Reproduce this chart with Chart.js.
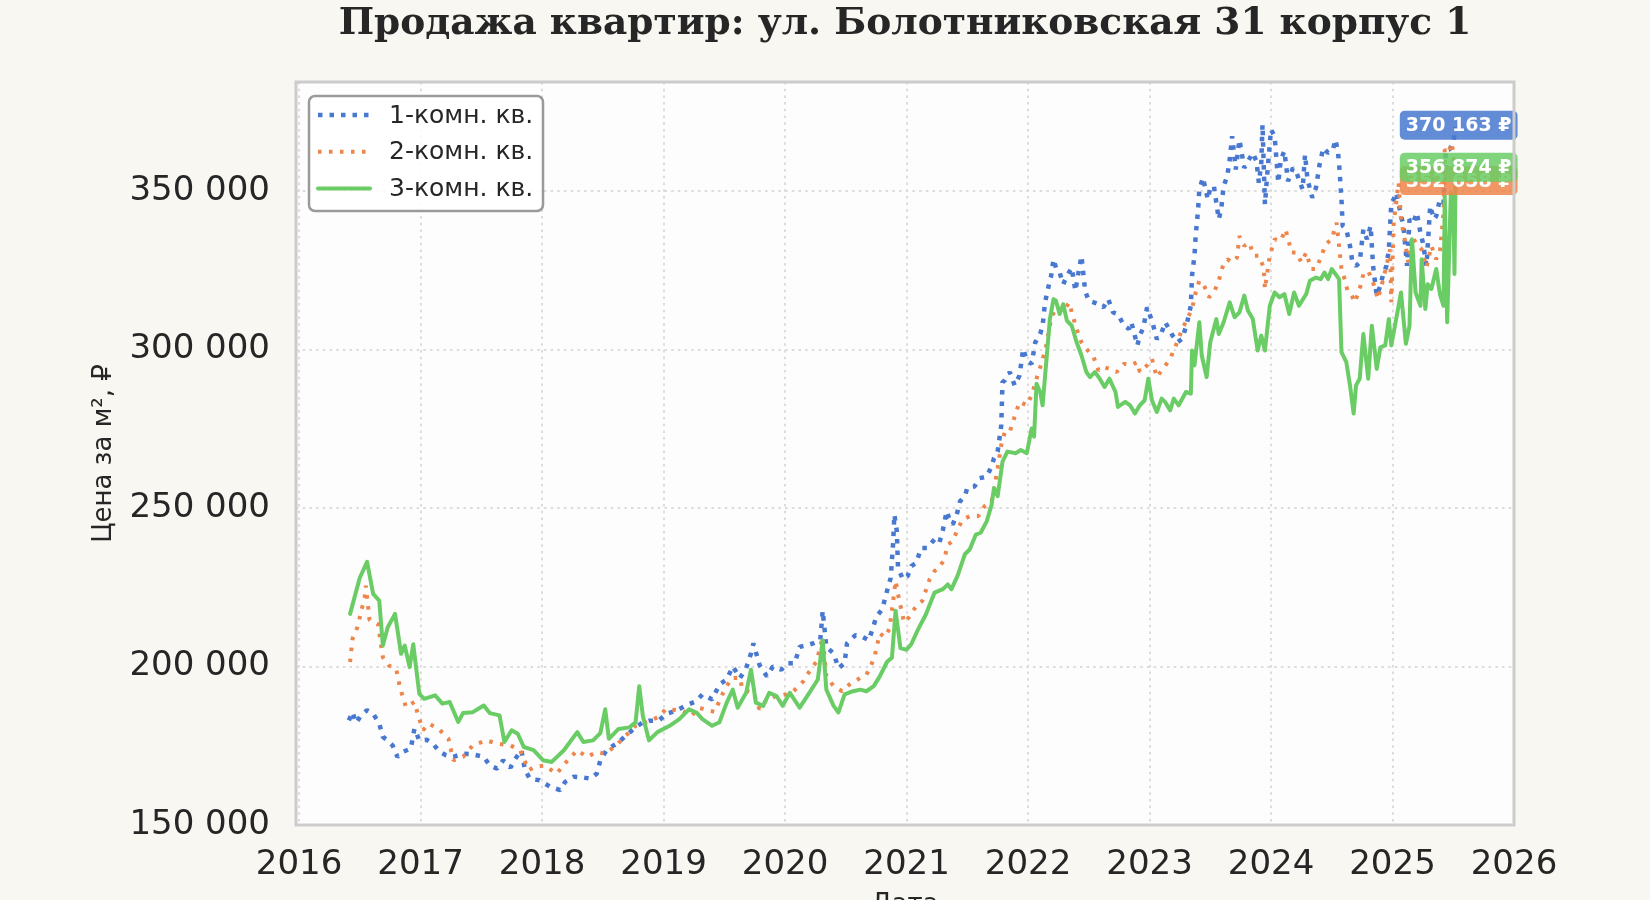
<!DOCTYPE html>
<html lang="ru">
<head>
<meta charset="utf-8">
<title>Продажа квартир: ул. Болотниковская 31 корпус 1</title>
<script src="https://cdn.jsdelivr.net/npm/chart.js@4.4.1/dist/chart.umd.min.js"></script>
<style>
    html, body { margin: 0; padding: 0; background: #f8f7f2; }
    #wrap { width: 1650px; height: 900px; }
</style>
</head>
<body>
<div id="wrap"><canvas id="priceChart" width="1650" height="900"></canvas></div>
<script>
// Chart data (price per m2, rubles; x = year as decimal)
const chartTitle = 'Продажа квартир: ул. Болотниковская 31 корпус 1';
const seriesLabels = ['1-комн. кв.', '2-комн. кв.', '3-комн. кв.'];
const seriesColors = ['#4878d0', '#ee854a', '#6acc64'];
const yearTicks = [2016, 2017, 2018, 2019, 2020, 2021, 2022, 2023, 2024, 2025, 2026];
const priceTicks = [150000, 200000, 250000, 300000, 350000];

const oneRoomYears = [
    2016.41, 2016.44, 2016.47, 2016.51, 2016.56, 2016.61, 2016.66, 2016.69, 2016.73, 2016.77,
    2016.81, 2016.85, 2016.92, 2016.95, 2016.99, 2017.05, 2017.10, 2017.16, 2017.21, 2017.27,
    2017.35, 2017.43, 2017.52, 2017.57, 2017.63, 2017.68, 2017.74, 2017.78, 2017.83, 2017.86,
    2017.90, 2017.98, 2018.07, 2018.15, 2018.19, 2018.26, 2018.34, 2018.40, 2018.45, 2018.48,
    2018.53, 2018.59, 2018.63, 2018.69, 2018.77, 2018.83, 2018.88, 2018.96, 2019.02, 2019.10,
    2019.18, 2019.27, 2019.32, 2019.40, 2019.46, 2019.52, 2019.57, 2019.63, 2019.68, 2019.72,
    2019.74, 2019.79, 2019.85, 2019.90, 2019.97, 2020.02, 2020.08, 2020.12, 2020.18, 2020.23,
    2020.29, 2020.31, 2020.34, 2020.40, 2020.44, 2020.49, 2020.51, 2020.58, 2020.64, 2020.69,
    2020.73, 2020.75, 2020.80, 2020.84, 2020.87, 2020.89, 2020.90, 2020.92, 2020.93, 2020.97,
    2021.01, 2021.04, 2021.08, 2021.12, 2021.17, 2021.23, 2021.27, 2021.30, 2021.33, 2021.35,
    2021.38, 2021.41, 2021.44, 2021.48, 2021.50, 2021.56, 2021.60, 2021.66, 2021.70, 2021.72,
    2021.75, 2021.78, 2021.79, 2021.81, 2021.85, 2021.89, 2021.93, 2021.96, 2021.99, 2022.03,
    2022.06, 2022.10, 2022.12, 2022.14, 2022.17, 2022.19, 2022.21, 2022.23, 2022.26, 2022.29,
    2022.32, 2022.36, 2022.39, 2022.41, 2022.44, 2022.47, 2022.50, 2022.54, 2022.58, 2022.62,
    2022.66, 2022.70, 2022.74, 2022.79, 2022.83, 2022.85, 2022.90, 2022.92, 2022.95, 2022.98,
    2023.02, 2023.06, 2023.10, 2023.13, 2023.19, 2023.23, 2023.27, 2023.31, 2023.34, 2023.35,
    2023.37, 2023.38, 2023.40, 2023.41, 2023.44, 2023.48, 2023.50, 2023.53, 2023.57, 2023.59,
    2023.61, 2023.64, 2023.66, 2023.68, 2023.71, 2023.74, 2023.78, 2023.81, 2023.85, 2023.88,
    2023.90, 2023.92, 2023.93, 2023.95, 2023.97, 2024.00, 2024.03, 2024.06, 2024.08, 2024.11,
    2024.14, 2024.18, 2024.21, 2024.23, 2024.26, 2024.28, 2024.30, 2024.34, 2024.37, 2024.40,
    2024.43, 2024.47, 2024.51, 2024.53, 2024.55, 2024.56, 2024.58, 2024.59, 2024.62, 2024.65,
    2024.67, 2024.70, 2024.73, 2024.76, 2024.79, 2024.82, 2024.84, 2024.87, 2024.90, 2024.92,
    2024.95, 2024.97, 2024.99, 2025.01, 2025.03, 2025.06, 2025.09, 2025.12, 2025.14, 2025.17,
    2025.20, 2025.23, 2025.25, 2025.28, 2025.31, 2025.34, 2025.36, 2025.39, 2025.42, 2025.44,
    2025.47, 2025.50, 2025.52
];
const oneRoomPrices = [
    183000, 185600, 182200, 184600, 186200, 185100, 182000, 177800, 176700, 175100,
    171500, 173000, 174100, 180400, 176700, 176900, 175700, 173000, 172000, 171500,
    172500, 172300, 171500, 168800, 167800, 170400, 168100, 170900, 173600, 167300,
    164600, 164100, 162000, 161000, 163600, 165200, 165000, 164600, 166200, 170400,
    173600, 175100, 176100, 178200, 180800, 182400, 182900, 182900, 185000, 186000,
    187600, 189100, 191200, 189600, 194300, 195900, 200000, 196400, 199500, 204100,
    207300, 200500, 196900, 200000, 199000, 201000, 201000, 206200, 206700, 207300,
    208300, 217600, 206200, 204100, 199500, 201000, 207300, 209900, 209300, 208300,
    213000, 215600, 218100, 223900, 228000, 239000, 247900, 242700, 231200, 227500,
    228600, 231700, 232700, 237400, 237400, 240100, 239000, 243200, 249000, 246900,
    244800, 247400, 252100, 253700, 256300, 256800, 259400, 259900, 263100, 265700,
    267800, 276200, 289700, 290300, 292900, 288700, 291800, 300200, 296500, 295500,
    302300, 304900, 307500, 314900, 320100, 323200, 328500, 325800, 324300, 320600,
    323200, 325800, 318500, 323200, 329500, 318500, 315400, 314900, 314300, 313300,
    315900, 311700, 311200, 307500, 306500, 308600, 301300, 304400, 307000, 313300,
    309100, 303300, 305400, 308600, 304400, 302300, 303400, 308600, 313800, 323300,
    329600, 335800, 344200, 350500, 354200, 347400, 351000, 351600, 341100, 344200,
    351600, 354700, 359900, 367300, 356800, 366200, 357300, 359400, 362000, 359400,
    352600, 358900, 371000, 345800, 355800, 369400, 367300, 352600, 359900, 362600,
    353100, 357300, 355800, 353700, 350500, 361500, 353700, 347900, 351000, 358400,
    363600, 362000, 363100, 366200, 362600, 358900, 347400, 339000, 337900, 332700,
    327500, 326400, 327500, 337900, 334800, 339000, 326400, 317000, 320100, 323300,
    326400, 331600, 346300, 347400, 349500, 344200, 339000, 326400, 341100, 340000,
    343200, 336900, 333700, 326400, 345300, 341100, 342100, 347400, 346300, 363100,
    363100, 365200, 370163
];

const twoRoomYears = [
    2016.42, 2016.44, 2016.48, 2016.54, 2016.55, 2016.58, 2016.65, 2016.69, 2016.74, 2016.80,
    2016.83, 2016.88, 2016.95, 2016.98, 2017.02, 2017.07, 2017.16, 2017.23, 2017.27, 2017.35,
    2017.43, 2017.54, 2017.63, 2017.74, 2017.82, 2017.89, 2017.94, 2018.02, 2018.12, 2018.20,
    2018.29, 2018.37, 2018.45, 2018.52, 2018.61, 2018.69, 2018.77, 2018.85, 2018.95, 2019.02,
    2019.10, 2019.16, 2019.23, 2019.29, 2019.42, 2019.49, 2019.56, 2019.63, 2019.65, 2019.74,
    2019.79, 2019.85, 2019.93, 2020.01, 2020.07, 2020.15, 2020.20, 2020.26, 2020.31, 2020.34,
    2020.40, 2020.47, 2020.53, 2020.62, 2020.67, 2020.71, 2020.74, 2020.78, 2020.82, 2020.86,
    2020.89, 2020.91, 2020.93, 2020.98, 2021.02, 2021.08, 2021.13, 2021.19, 2021.23, 2021.27,
    2021.31, 2021.34, 2021.38, 2021.42, 2021.46, 2021.52, 2021.59, 2021.64, 2021.70, 2021.72,
    2021.75, 2021.78, 2021.81, 2021.85, 2021.88, 2021.93, 2021.99, 2022.03, 2022.07, 2022.11,
    2022.15, 2022.19, 2022.23, 2022.29, 2022.34, 2022.36, 2022.40, 2022.44, 2022.48, 2022.54,
    2022.58, 2022.62, 2022.67, 2022.73, 2022.79, 2022.84, 2022.90, 2022.92, 2022.98, 2023.02,
    2023.06, 2023.12, 2023.17, 2023.21, 2023.27, 2023.31, 2023.35, 2023.38, 2023.41, 2023.45,
    2023.49, 2023.53, 2023.57, 2023.60, 2023.64, 2023.68, 2023.72, 2023.74, 2023.78, 2023.82,
    2023.86, 2023.90, 2023.94, 2023.95, 2023.99, 2024.03, 2024.08, 2024.12, 2024.17, 2024.21,
    2024.25, 2024.29, 2024.33, 2024.37, 2024.41, 2024.45, 2024.50, 2024.54, 2024.56, 2024.58,
    2024.61, 2024.63, 2024.66, 2024.69, 2024.73, 2024.76, 2024.80, 2024.84, 2024.88, 2024.92,
    2024.95, 2024.98, 2024.99, 2025.01, 2025.03, 2025.05, 2025.07, 2025.10, 2025.13, 2025.16,
    2025.20, 2025.24, 2025.28, 2025.32, 2025.36, 2025.39, 2025.42, 2025.43, 2025.46, 2025.49,
    2025.52
];
const twoRoomPrices = [
    201400, 208700, 212400, 221800, 225500, 214700, 213400, 202900, 200300, 199300,
    193500, 187200, 188800, 184600, 179900, 182000, 179900, 177200, 170400, 171500,
    175100, 176700, 175700, 175100, 173600, 167300, 168300, 168800, 166200, 169900,
    173600, 171500, 173000, 172500, 175100, 178200, 181300, 182400, 183900, 186500,
    186300, 186000, 184400, 187000, 185700, 191700, 196400, 196400, 192700, 191700,
    186500, 189600, 190700, 191200, 192200, 195300, 198400, 201600, 209300, 196900,
    193800, 192200, 194300, 196400, 197400, 200500, 203600, 210400, 209300, 211900,
    220700, 227000, 222800, 213900, 215500, 219100, 220700, 227500, 230100, 231200,
    233800, 238500, 239500, 243200, 246300, 247400, 247400, 250500, 252100, 255800,
    262600, 269900, 274100, 274100, 277700, 283500, 282400, 285600, 290800, 295500,
    301300, 309600, 313300, 312200, 314800, 311700, 306500, 302300, 300200, 297600,
    293400, 294500, 293900, 292900, 295500, 295000, 296000, 292900, 295000, 297100,
    291300, 294400, 297100, 300700, 306500, 309600, 312800, 318000, 321700, 320100,
    316500, 318000, 321700, 325900, 328500, 327500, 329000, 335800, 332700, 333700,
    329600, 329600, 325900, 319100, 329600, 334800, 334300, 337900, 330600, 330600,
    327500, 330600, 325400, 325400, 329000, 333200, 334800, 340000, 332700, 325400,
    321700, 318500, 317500, 314900, 319100, 323800, 324800, 321200, 315900, 321700,
    326400, 331600, 314900, 340000, 346300, 352600, 341100, 334800, 327500, 335800,
    333200, 331600, 325900, 332700, 328500, 330600, 343200, 363100, 362000, 365200,
    352658
];

const threeRoomYears = [
    2016.42, 2016.50, 2016.56, 2016.61, 2016.66, 2016.69, 2016.73, 2016.79, 2016.84, 2016.87,
    2016.91, 2016.94, 2016.99, 2017.03, 2017.12, 2017.18, 2017.24, 2017.31, 2017.35, 2017.43,
    2017.52, 2017.57, 2017.65, 2017.69, 2017.75, 2017.80, 2017.85, 2017.93, 2018.01, 2018.08,
    2018.18, 2018.29, 2018.34, 2018.42, 2018.48, 2018.52, 2018.55, 2018.63, 2018.72, 2018.77,
    2018.80, 2018.83, 2018.88, 2018.95, 2019.05, 2019.13, 2019.21, 2019.27, 2019.32, 2019.40,
    2019.46, 2019.52, 2019.57, 2019.61, 2019.68, 2019.72, 2019.76, 2019.82, 2019.87, 2019.93,
    2019.98, 2020.04, 2020.12, 2020.20, 2020.27, 2020.31, 2020.34, 2020.40, 2020.44, 2020.49,
    2020.56, 2020.62, 2020.67, 2020.73, 2020.78, 2020.84, 2020.88, 2020.91, 2020.95, 2021.00,
    2021.04, 2021.09, 2021.16, 2021.23, 2021.30, 2021.34, 2021.37, 2021.42, 2021.48, 2021.52,
    2021.57, 2021.61, 2021.66, 2021.70, 2021.72, 2021.75, 2021.79, 2021.83, 2021.90, 2021.94,
    2021.99, 2022.03, 2022.05, 2022.07, 2022.10, 2022.12, 2022.15, 2022.18, 2022.21, 2022.23,
    2022.26, 2022.29, 2022.32, 2022.36, 2022.40, 2022.44, 2022.48, 2022.51, 2022.55, 2022.59,
    2022.63, 2022.67, 2022.72, 2022.74, 2022.80, 2022.84, 2022.88, 2022.92, 2022.96, 2022.99,
    2023.02, 2023.06, 2023.10, 2023.13, 2023.17, 2023.20, 2023.24, 2023.30, 2023.34, 2023.35,
    2023.37, 2023.41, 2023.43, 2023.47, 2023.50, 2023.55, 2023.57, 2023.61, 2023.66, 2023.70,
    2023.74, 2023.78, 2023.81, 2023.85, 2023.89, 2023.92, 2023.95, 2023.99, 2024.03, 2024.07,
    2024.11, 2024.15, 2024.19, 2024.23, 2024.29, 2024.32, 2024.37, 2024.41, 2024.44, 2024.47,
    2024.50, 2024.54, 2024.56, 2024.58, 2024.62, 2024.65, 2024.68, 2024.70, 2024.73, 2024.76,
    2024.80, 2024.83, 2024.87, 2024.90, 2024.94, 2024.97, 2024.99, 2025.02, 2025.05, 2025.07,
    2025.11, 2025.14, 2025.16, 2025.19, 2025.23, 2025.24, 2025.27, 2025.29, 2025.32, 2025.36,
    2025.39, 2025.42, 2025.43, 2025.45, 2025.48, 2025.50, 2025.51, 2025.52
];
const threeRoomPrices = [
    216600, 228000, 233000, 222900, 220800, 206600, 212400, 216600, 204000, 206600,
    199800, 207000, 191400, 189800, 190900, 188300, 188800, 182500, 185300, 185600,
    187700, 185300, 184600, 176200, 179900, 178800, 174600, 173600, 170400, 169900,
    173600, 179300, 176200, 176700, 179000, 186500, 177200, 180300, 180800, 182400,
    193800, 184400, 176700, 179300, 181300, 183400, 186500, 185500, 183400, 181300,
    182400, 188600, 192700, 187000, 191700, 199000, 188600, 187600, 191700, 190700,
    187600, 191700, 187000, 191700, 195900, 208300, 192700, 187600, 185500, 191200,
    192200, 192700, 192200, 193800, 196900, 201500, 202800, 217600, 205800, 205300,
    207100, 211300, 216500, 223300, 224400, 225900, 224400, 228600, 235400, 236900,
    241600, 242200, 245800, 251000, 256300, 253700, 264600, 267800, 267300, 268300,
    267300, 275100, 272500, 289200, 286600, 282400, 296000, 309600, 315900, 315400,
    311200, 314300, 309100, 307500, 302300, 298100, 292900, 291300, 292900, 290800,
    288200, 290800, 286600, 281900, 283500, 282400, 279800, 282400, 284000, 290800,
    284000, 280300, 284500, 283400, 280800, 284500, 282400, 286600, 286100, 299700,
    295000, 308600, 298100, 291300, 302300, 309600, 304900, 308600, 314900, 310200,
    311700, 317000, 312300, 309600, 299700, 304400, 299700, 313800, 318000, 316500,
    317500, 311200, 318000, 313800, 317500, 321700, 322700, 322200, 324300, 322200,
    325400, 323300, 322200, 299200, 296000, 288700, 279800, 288700, 290800, 304900,
    290800, 307500, 293900, 300700, 301300, 309600, 301300, 307500, 313800, 318000,
    301800, 307500, 334800, 318000, 313800, 328500, 312800, 320600, 319100, 325400,
    317500, 313800, 348400, 308600, 349500, 347400, 323800, 356874
];

function toPoints(years, prices) {
    return years.map((year, i) => ({ x: year, y: prices[i] }));
}

function formatPrice(value) {
    return String(Math.round(value)).replace(/\B(?=(\d{3})+(?!\d))/g, ' ');
}

// figure background, plot background and frame
const framePlugin = {
    id: 'frame',
    beforeDraw(chart) {
        const ctx = chart.ctx;
        const a = chart.chartArea;
        ctx.save();
        ctx.fillStyle = '#f8f7f2';
        ctx.fillRect(0, 0, chart.width, chart.height);
        ctx.fillStyle = '#fdfdfd';
        ctx.fillRect(a.left, a.top, a.right - a.left, a.bottom - a.top);
        ctx.restore();
    },
    afterDraw(chart) {
        const ctx = chart.ctx;
        const a = chart.chartArea;
        ctx.save();
        ctx.strokeStyle = '#cccccc';
        ctx.lineWidth = 3;
        ctx.strokeRect(a.left, a.top, a.right - a.left, a.bottom - a.top);
        ctx.restore();
    }
};

// value badges at the end of each line
const endLabelPlugin = {
    id: 'endLabels',
    afterDatasetsDraw(chart) {
        const ctx = chart.ctx;
        const xScale = chart.scales.x;
        const yScale = chart.scales.y;
        ctx.save();
        ctx.font = 'bold 19px "DejaVu Sans"';
        ctx.textAlign = 'center';
        ctx.textBaseline = 'middle';
        chart.data.datasets.forEach(ds => {
            const last = ds.data[ds.data.length - 1];
            const px = xScale.getPixelForValue(last.x) + 3;
            const py = yScale.getPixelForValue(last.y) - 2;
            const text = formatPrice(last.y) + ' ₽';
            const w = ctx.measureText(text).width + 12;
            ctx.globalAlpha = 0.85;
            ctx.fillStyle = ds.borderColor;
            ctx.beginPath();
            ctx.roundRect(px - w / 2, py - 14.5, w, 29, 5);
            ctx.fill();
            ctx.globalAlpha = 1;
            ctx.fillStyle = '#ffffff';
            ctx.fillText(text, px, py + 1);
        });
        ctx.restore();
    }
};

// boxed legend in the upper left corner of the plot
const legendBoxPlugin = {
    id: 'legendBox',
    afterDraw(chart) {
        const ctx = chart.ctx;
        const a = chart.chartArea;
        const x = a.left + 13;
        const y = a.top + 14;
        ctx.save();
        ctx.beginPath();
        ctx.roundRect(x, y, 234, 115, 6);
        ctx.fillStyle = 'rgba(255, 255, 255, 0.85)';
        ctx.fill();
        ctx.lineWidth = 2.5;
        ctx.strokeStyle = '#9a9a9a';
        ctx.stroke();
        chart.data.datasets.forEach((ds, i) => {
            const rowY = y + 19 + i * 36.7;
            ctx.beginPath();
            ctx.setLineDash(ds.borderDash || []);
            ctx.lineWidth = ds.borderWidth;
            ctx.lineCap = ds.borderCapStyle || 'butt';
            ctx.strokeStyle = ds.borderColor;
            ctx.moveTo(x + 9, rowY);
            ctx.lineTo(x + 61, rowY);
            ctx.stroke();
            ctx.setLineDash([]);
            ctx.fillStyle = '#262626';
            ctx.font = '25px "DejaVu Sans"';
            ctx.textAlign = 'left';
            ctx.textBaseline = 'middle';
            ctx.fillText(ds.label, x + 80, rowY + 1);
        });
        ctx.restore();
    }
};

const tickFont = { family: 'DejaVu Sans', size: 34 };
const labelFont = { family: 'DejaVu Sans', size: 26 };

new Chart(document.getElementById('priceChart'), {
    type: 'line',
    data: {
        datasets: [
            {
                label: seriesLabels[0],
                data: toPoints(oneRoomYears, oneRoomPrices),
                borderColor: seriesColors[0],
                borderWidth: 4.5,
                borderDash: [4.5, 7],
                borderCapStyle: 'butt',
                borderJoinStyle: 'bevel',
                pointRadius: 0,
                order: 2
            },
            {
                label: seriesLabels[1],
                data: toPoints(twoRoomYears, twoRoomPrices),
                borderColor: seriesColors[1],
                borderWidth: 4,
                borderDash: [3.5, 7.5],
                borderCapStyle: 'butt',
                borderJoinStyle: 'bevel',
                pointRadius: 0,
                order: 1
            },
            {
                label: seriesLabels[2],
                data: toPoints(threeRoomYears, threeRoomPrices),
                borderColor: seriesColors[2],
                borderWidth: 4,
                borderCapStyle: 'round',
                borderJoinStyle: 'round',
                pointRadius: 0,
                order: 0
            }
        ]
    },
    options: {
        responsive: false,
        animation: false,
        layout: { padding: { left: 0, right: 136, top: 0, bottom: 0 } },
        plugins: {
            legend: { display: false },
            tooltip: { enabled: false },
            title: {
                display: true,
                text: chartTitle,
                fullSize: false,
                color: '#262626',
                font: { family: 'DejaVu Serif', size: 37.5, weight: 'bold' },
                padding: { top: 2, bottom: 35 }
            }
        },
        scales: {
            x: {
                type: 'linear',
                min: 2015.975,
                max: 2026,
                afterBuildTicks: scale => { scale.ticks = yearTicks.map(v => ({ value: v })); },
                afterFit: scale => { scale.height = 75; },
                grid: { color: '#dcdcdc', lineWidth: 2, drawTicks: false },
                border: { display: false, dash: [2.5, 4.2] },
                ticks: {
                    color: '#262626',
                    font: tickFont,
                    padding: 20,
                    maxRotation: 0,
                    autoSkip: false,
                    callback: value => String(value)
                },
                title: {
                    display: true,
                    text: 'Дата',
                    color: '#262626',
                    font: labelFont,
                    padding: { top: 0, bottom: -21 }
                }
            },
            y: {
                type: 'linear',
                min: 150000,
                max: 384400,
                afterBuildTicks: scale => { scale.ticks = priceTicks.map(v => ({ value: v })); },
                afterFit: scale => { scale.width = 296; },
                grid: { color: '#dcdcdc', lineWidth: 2, drawTicks: false },
                border: { display: false, dash: [2.5, 4.2] },
                ticks: {
                    color: '#262626',
                    font: tickFont,
                    padding: 26,
                    callback: value => formatPrice(value)
                },
                title: {
                    display: true,
                    text: 'Цена за м², ₽',
                    color: '#262626',
                    font: labelFont,
                    padding: { top: 89, bottom: 0 }
                }
            }
        }
    },
    plugins: [framePlugin, endLabelPlugin, legendBoxPlugin]
});
</script>
</body>
</html>
